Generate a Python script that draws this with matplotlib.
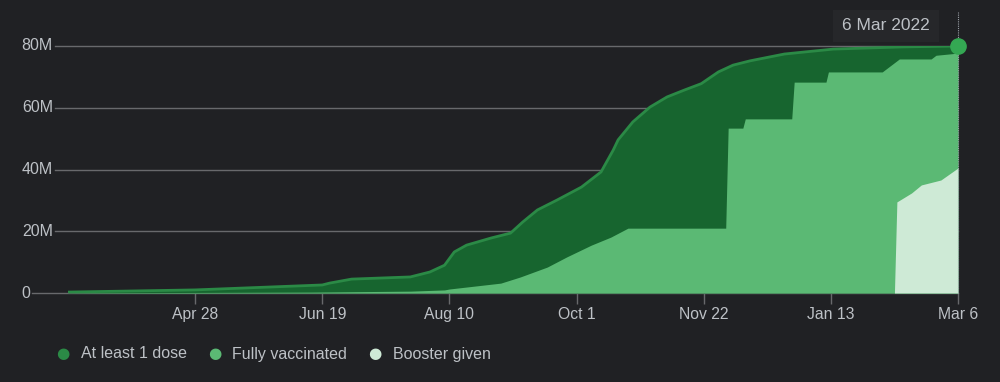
import matplotlib
matplotlib.use("Agg")
import matplotlib.pyplot as plt
import matplotlib.dates as mdates
import numpy as np
from datetime import date, timedelta

# day offsets from the first data point (7 Mar 2021) and values in millions
start = date(2021, 3, 7)
dose1_days = [0, 52, 104, 107, 116, 140, 148, 154, 158, 163, 173, 181, 186, 192, 200,
              210, 218, 223, 225, 231, 238, 245, 252, 259, 266, 272, 279, 293, 313, 341, 364]
dose1_vals = [0.3, 1.0, 2.6, 3.2, 4.5, 5.2, 6.8, 9.0, 13.3, 15.5, 17.8, 19.4, 23.0, 26.9, 30.1,
              34.3, 39.2, 46.3, 49.6, 55.4, 60.2, 63.5, 65.7, 67.8, 71.6, 73.8, 75.2, 77.4, 79.0, 79.7, 80.0]

full_days = [0, 100, 140, 154, 156, 177, 185, 196, 204, 214, 222, 229, 269, 270, 276, 277,
             296, 297, 310, 311, 333, 340, 353, 355, 364]
full_vals = [0.05, 0.3, 0.6, 1.0, 1.3, 3.2, 5.2, 8.4, 11.7, 15.5, 18.1, 21.0, 21.0, 53.4, 53.4, 56.4,
             56.4, 68.3, 68.3, 71.6, 71.6, 75.8, 75.8, 77.0, 77.7]

boost_days = [0, 338, 339, 345, 349, 357, 364]
boost_vals = [0, 0, 29.5, 32.4, 35.0, 36.6, 40.5]

y_ticks = [0, 20, 40, 60, 80]
y_labels = ['0', '20M', '40M', '60M', '80M']
x_ticks = [date(2021, 4, 28), date(2021, 6, 19), date(2021, 8, 10), date(2021, 10, 1),
           date(2021, 11, 22), date(2022, 1, 13), date(2022, 3, 6)]
x_labels = ['Apr 28', 'Jun 19', 'Aug 10', 'Oct 1', 'Nov 22', 'Jan 13', 'Mar 6']
series_names = ['At least 1 dose', 'Fully vaccinated', 'Booster given']

bg = '#202124'
txt = '#bdc1c6'
grid = '#68696c'
c_dark = '#17652f'
c_edge = '#2b8a46'
c_mid = '#5bb974'
c_light = '#ceead6'

def to_dates(days):
    return [mdates.date2num(start + timedelta(days=d)) for d in days]

plt.rcParams['font.family'] = ['Liberation Sans', 'DejaVu Sans']

fig = plt.figure(figsize=(10, 3.82), dpi=100, facecolor=bg)
ax = fig.add_axes([0.068, 89 / 382, 0.890, 247 / 382])
ax.set_facecolor(bg)

x_start = mdates.date2num(start)
x_end = mdates.date2num(date(2022, 3, 6))
ax.set_xlim(x_start, x_end)
ax.set_ylim(0, 80)

# gridlines start right after their labels, like the original
grid_starts = [32, 55, 55, 55, 55]
for yv, lab, gx in zip(y_ticks, y_labels, grid_starts):
    fx = (gx - 68) / 890
    ax.plot([fx, 1], [yv, yv], transform=ax.get_yaxis_transform(), color=grid,
            lw=1.0, clip_on=False, zorder=1)
    ax.text(fx - 2 / 890, yv, lab, transform=ax.get_yaxis_transform(), ha='right',
            va='center', color=txt, fontsize=11.5)

xd = to_dates(dose1_days)
ax.fill_between(xd, 0, dose1_vals, color=c_dark, lw=0, zorder=2)
ax.plot(xd, dose1_vals, color=c_edge, lw=2, zorder=3, solid_capstyle='butt',
        solid_joinstyle='round')
ax.fill_between(to_dates(full_days), 0, full_vals, color=c_mid, lw=0, zorder=4)
ax.fill_between(to_dates(boost_days), 0, boost_vals, color=c_light, lw=0, zorder=5)

# hover marker at the last day
ax.plot([x_end, x_end], [0, 91], color='#9aa0a6', lw=0.8, ls=(0, (1, 1)),
        clip_on=False, zorder=6)
ax.plot([x_end], [dose1_vals[-1]], 'o', color='#34a853', ms=11, clip_on=False, zorder=7)
fig.text(0.886, 1 - 26 / 382, '6 Mar 2022', ha='center', va='center', color=txt,
         fontsize=12.5, bbox=dict(boxstyle='square,pad=0.5', fc='#26272a', ec='none'))

ax.set_xticks([mdates.date2num(d) for d in x_ticks])
ax.set_xticklabels(x_labels)
ax.tick_params(axis='x', colors=grid, length=8, width=1, labelcolor=txt,
               labelsize=11.3, pad=2)
ax.set_yticks([])
for s in ax.spines.values():
    s.set_visible(False)

# legend
leg_x = [63, 215, 375]
leg_tx = [81, 232, 393]
leg_c = [c_edge, c_mid, c_light]
for lx, tx, lc, name in zip(leg_x, leg_tx, leg_c, series_names):
    fig.text(lx / 1000, 1 - 354 / 382, '\u25CF', color=lc, fontsize=11,
             ha='center', va='center', family='DejaVu Sans')
    fig.text(tx / 1000, 1 - 354 / 382, name, color=txt, fontsize=11.5,
             ha='left', va='center')

fig.savefig('out.png', dpi=100, facecolor=bg)
